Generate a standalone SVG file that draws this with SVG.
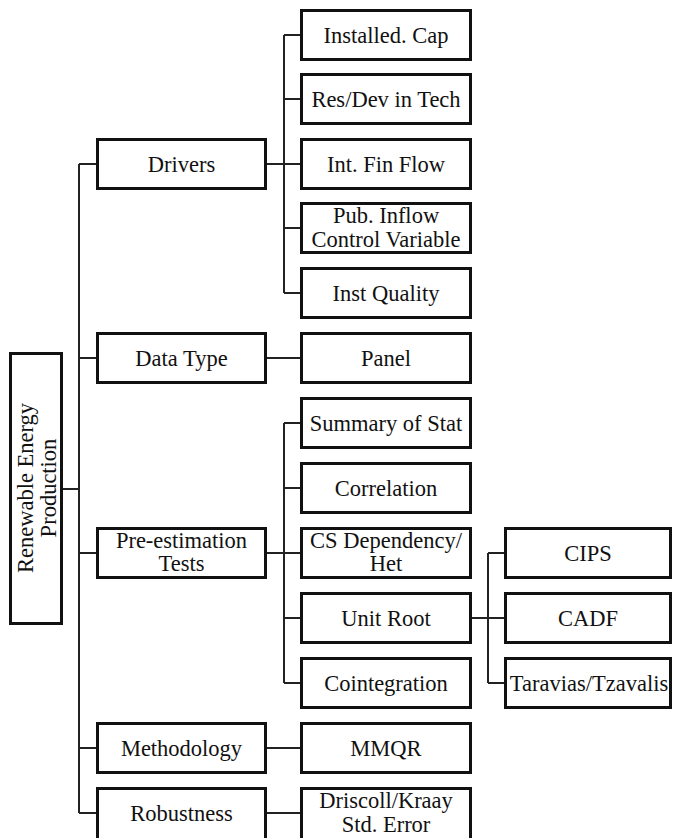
<svg xmlns="http://www.w3.org/2000/svg" width="673" height="838" viewBox="0 0 673 838">
<style>
.box{fill:#fff;stroke:#111;stroke-width:3}
.t{font-family:"Liberation Serif","Times New Roman",serif;font-size:22.5px;fill:#111;text-anchor:middle}
.c{fill:none;stroke:#222;stroke-width:2}
</style>
<rect width="673" height="838" fill="#fff"/>
<g id="connectors" class="c">
<path d="M63 489H79M79 164V813M79 164H96M79 358H96M79 553H96M79 748H96M79 813H96"/>
<path d="M267 164H300M284 35V293M284 35H300M284 99H300M284 228H300M284 293H300"/>
<path d="M267 358H300"/>
<path d="M267 553H300M284 423V683M284 423H300M284 488H300M284 618H300M284 683H300"/>
<path d="M472 618H504M488 553V683M488 553H504M488 683H504"/>
<path d="M267 748H300M267 813H300"/>
</g>
<g id="root"><rect class="box" x="10.5" y="353.5" width="51" height="270"/>
<text class="t" transform="rotate(-90 36 488)" x="36" y="484.5">Renewable Energy</text>
<text class="t" transform="rotate(-90 36 488)" x="36" y="508">Production</text></g>
<g id="drivers"><rect class="box" x="97.5" y="139.5" width="168" height="49"/><text class="t" x="181.5" y="172">Drivers</text></g>
<g id="datatype"><rect class="box" x="97.5" y="333.5" width="168" height="49"/><text class="t" x="181.5" y="366">Data Type</text></g>
<g id="preest"><rect class="box" x="97.5" y="528.5" width="168" height="49"/><text class="t" x="181.5" y="548">Pre-estimation</text><text class="t" x="181.5" y="571">Tests</text></g>
<g id="methodology"><rect class="box" x="97.5" y="723.5" width="168" height="49"/><text class="t" x="181.5" y="756">Methodology</text></g>
<g id="robustness"><rect class="box" x="97.5" y="788.5" width="168" height="52"/><text class="t" x="181.5" y="821">Robustness</text></g>
<g id="installed"><rect class="box" x="301.5" y="10.5" width="169" height="49"/><text class="t" x="386" y="43">Installed. Cap</text></g>
<g id="resdev"><rect class="box" x="301.5" y="74.5" width="169" height="49"/><text class="t" x="386" y="107">Res/Dev in Tech</text></g>
<g id="intfin"><rect class="box" x="301.5" y="139.5" width="169" height="49"/><text class="t" x="386" y="172">Int. Fin Flow</text></g>
<g id="pubinflow"><rect class="box" x="301.5" y="203.5" width="169" height="49"/><text class="t" x="386" y="223">Pub. Inflow</text><text class="t" x="386" y="247">Control Variable</text></g>
<g id="instquality"><rect class="box" x="301.5" y="268.5" width="169" height="49"/><text class="t" x="386" y="301">Inst Quality</text></g>
<g id="panel"><rect class="box" x="301.5" y="333.5" width="169" height="49"/><text class="t" x="386" y="366">Panel</text></g>
<g id="summary"><rect class="box" x="301.5" y="398.5" width="169" height="49"/><text class="t" x="386" y="431">Summary of Stat</text></g>
<g id="correlation"><rect class="box" x="301.5" y="463.5" width="169" height="49"/><text class="t" x="386" y="496">Correlation</text></g>
<g id="csdep"><rect class="box" x="301.5" y="528.5" width="169" height="49"/><text class="t" x="386" y="548">CS Dependency/</text><text class="t" x="386" y="571">Het</text></g>
<g id="unitroot"><rect class="box" x="301.5" y="593.5" width="169" height="49"/><text class="t" x="386" y="626">Unit Root</text></g>
<g id="cointegration"><rect class="box" x="301.5" y="658.5" width="169" height="49"/><text class="t" x="386" y="691">Cointegration</text></g>
<g id="mmqr"><rect class="box" x="301.5" y="723.5" width="169" height="49"/><text class="t" x="386" y="756">MMQR</text></g>
<g id="driscoll"><rect class="box" x="301.5" y="788.5" width="169" height="52"/><text class="t" x="386" y="808">Driscoll/Kraay</text><text class="t" x="386" y="832">Std. Error</text></g>
<g id="cips"><rect class="box" x="505.5" y="528.5" width="165" height="49"/><text class="t" x="588" y="561">CIPS</text></g>
<g id="cadf"><rect class="box" x="505.5" y="593.5" width="165" height="49"/><text class="t" x="588" y="626">CADF</text></g>
<g id="taravias"><rect class="box" x="505.5" y="658.5" width="165" height="49"/><text class="t" x="589" y="691">Taravias/Tzavalis</text></g>
</svg>
